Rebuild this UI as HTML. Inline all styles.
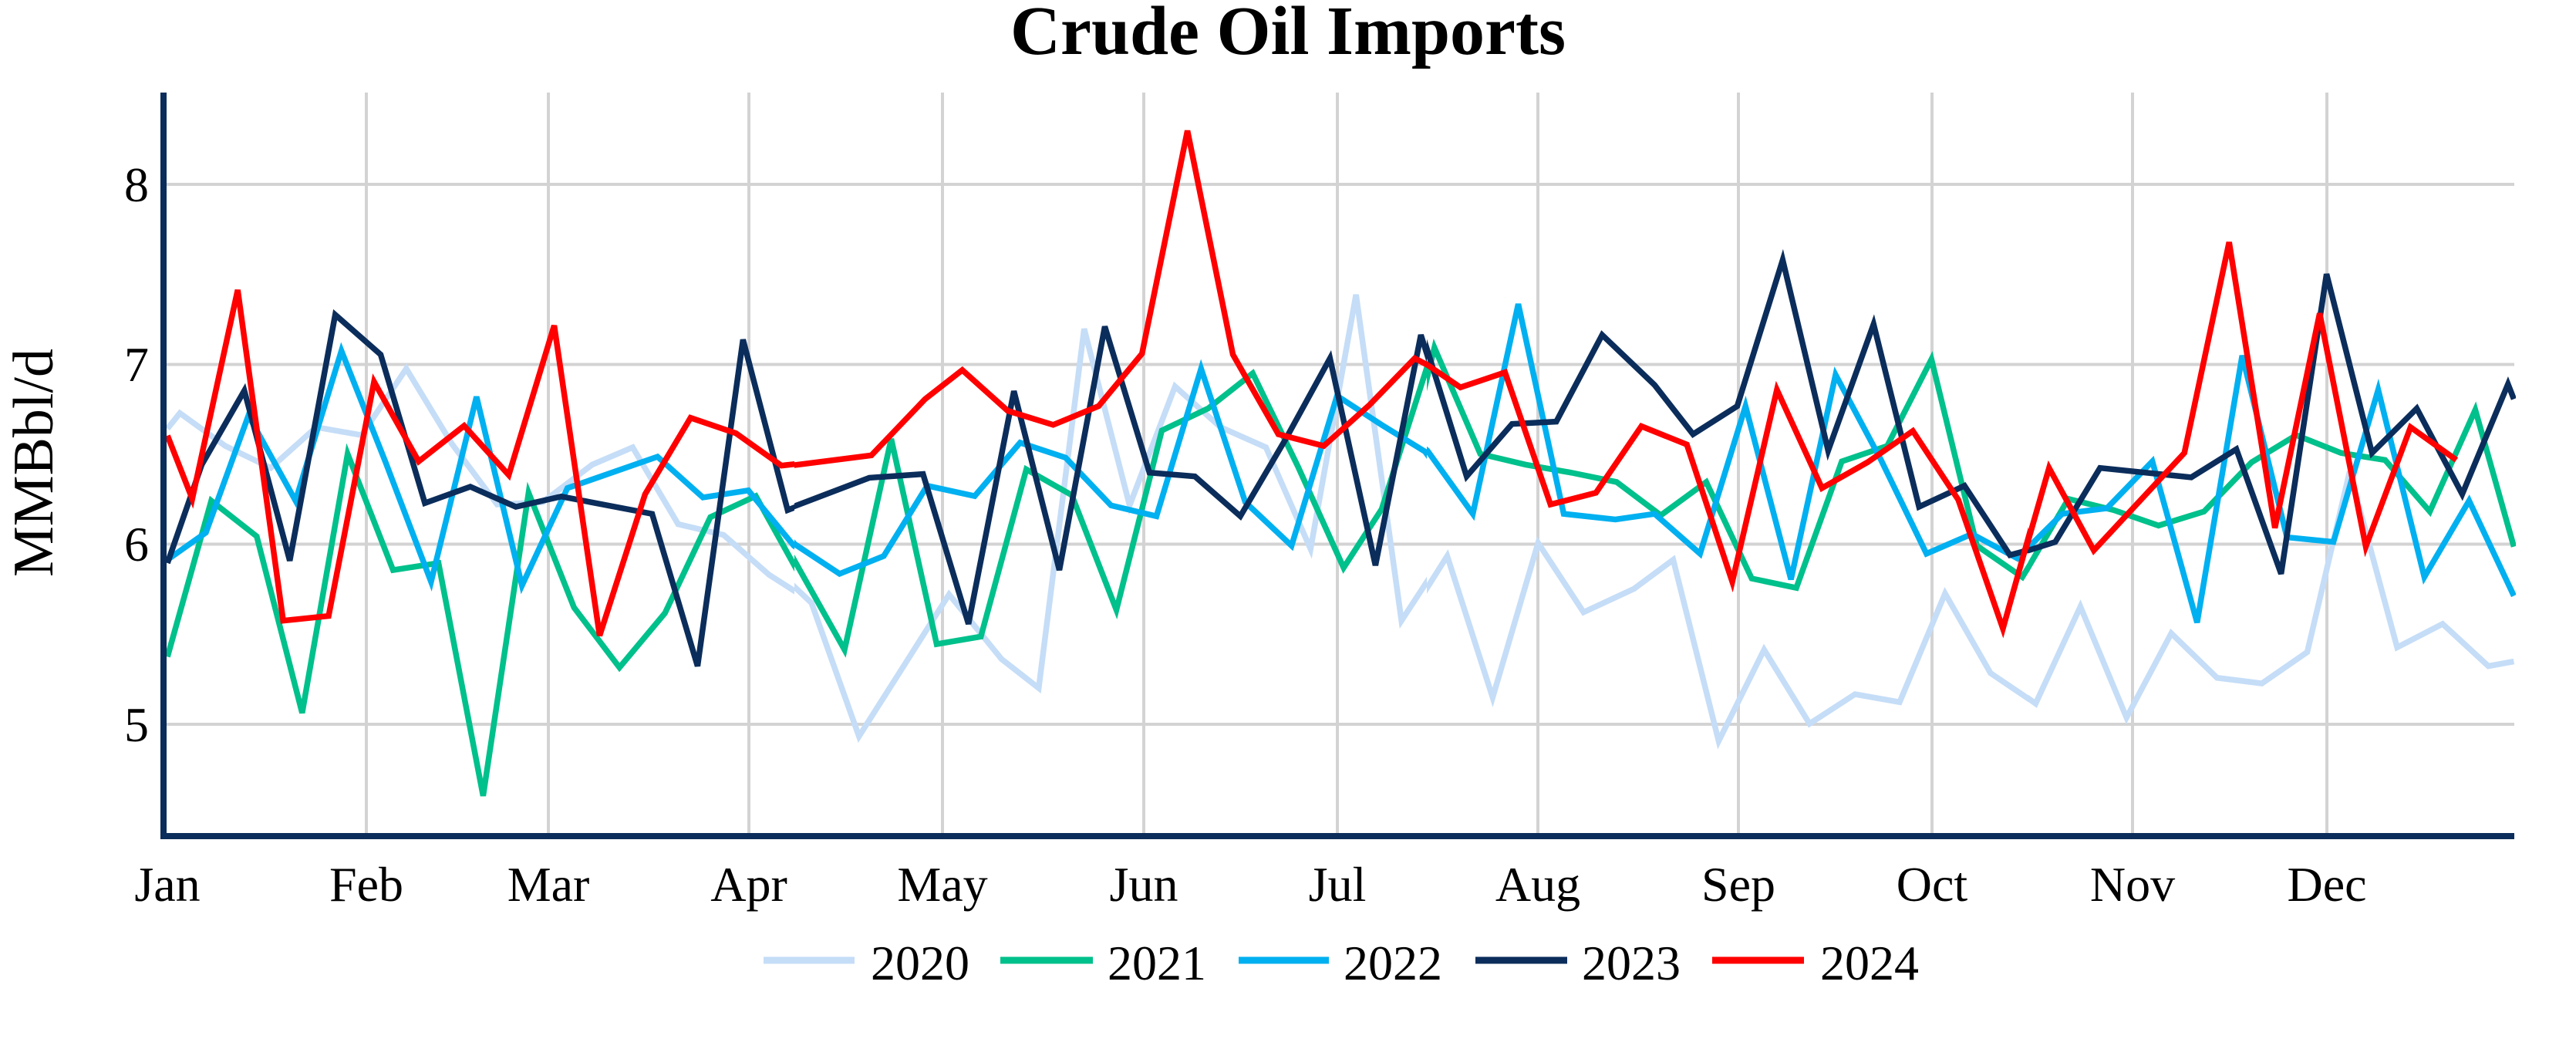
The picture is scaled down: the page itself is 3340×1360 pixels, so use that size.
<!DOCTYPE html>
<html><head><meta charset="utf-8"><style>
html,body{margin:0;padding:0;background:#fff;}
svg{display:block;}
text{font-family:"Liberation Serif",serif;fill:#000;}
</style></head><body>
<svg width="3340" height="1360" viewBox="0 0 3340 1360" xmlns="http://www.w3.org/2000/svg">
<defs>
<clipPath id="c1"><rect x="200" y="0" width="830" height="1080"/></clipPath>
<clipPath id="c2"><rect x="1030" y="0" width="820" height="1080"/></clipPath>
<clipPath id="c3"><rect x="1850" y="0" width="780" height="1080"/></clipPath>
<clipPath id="c4"><rect x="2630" y="0" width="632" height="1080"/></clipPath>
</defs>
<text x="1670" y="70" text-anchor="middle" font-size="90" font-weight="bold">Crude Oil Imports</text>
<g stroke="#d3d3d3" stroke-width="4">
<line x1="216" y1="239" x2="3260" y2="239"/>
<line x1="216" y1="472.5" x2="3260" y2="472.5"/>
<line x1="216" y1="705.5" x2="3260" y2="705.5"/>
<line x1="216" y1="939" x2="3260" y2="939"/>
<line x1="475" y1="120" x2="475" y2="1080"/>
<line x1="711" y1="120" x2="711" y2="1080"/>
<line x1="971" y1="120" x2="971" y2="1080"/>
<line x1="1222" y1="120" x2="1222" y2="1080"/>
<line x1="1483" y1="120" x2="1483" y2="1080"/>
<line x1="1734" y1="120" x2="1734" y2="1080"/>
<line x1="1994" y1="120" x2="1994" y2="1080"/>
<line x1="2254" y1="120" x2="2254" y2="1080"/>
<line x1="2505" y1="120" x2="2505" y2="1080"/>
<line x1="2765" y1="120" x2="2765" y2="1080"/>
<line x1="3017" y1="120" x2="3017" y2="1080"/>
</g>
<g fill="none" stroke-width="7.5" stroke-linejoin="miter" >
<g clip-path="url(#c1)"><g transform="translate(200,150) scale(0.5357,0.6073)">
<polyline vector-effect="non-scaling-stroke" stroke="#c5ddf7" points="32,668 62,635 172,705 282,752 392,665 502,682 610,540 720,700 830,830 940,825 1060,745 1158,708 1268,872 1378,895 1488,980 1568,1025"/>
<polyline vector-effect="non-scaling-stroke" stroke="#00c08b" points="32,1155 138,822 248,898 358,1275 468,722 578,970 688,955 796,1452 906,805 1016,1050 1126,1178 1236,1062 1346,857 1456,812 1568,990"/>
<polyline vector-effect="non-scaling-stroke" stroke="#00b0f0" points="32,948 125,890 228,640 342,822 453,502 560,740 670,995 780,600 890,1003 1000,795 1218,728 1328,815 1438,800 1548,918 1568,930"/>
<polyline vector-effect="non-scaling-stroke" stroke="#0b2d5b" points="32,955 115,745 218,587 328,950 438,425 548,510 655,827 765,792 875,835 985,813 1205,850 1315,1175 1425,478 1533,842 1568,830"/>
<polyline vector-effect="non-scaling-stroke" stroke="#ff0000" points="32,683 92,818 202,372 312,1078 422,1068 532,568 640,738 750,662 858,767 968,448 1078,1110 1188,808 1298,645 1408,678 1518,747 1568,742"/>
</g></g>
<g clip-path="url(#c2)"><g transform="translate(1020,150) scale(0.5357,0.6073)">
<polyline vector-effect="non-scaling-stroke" stroke="#c5ddf7" points="0,990 60,1040 175,1325 283,1175 393,1022 520,1160 610,1222 720,455 830,832 940,578 1050,665 1160,708 1268,925 1378,382 1488,1078 1568,970"/>
<polyline vector-effect="non-scaling-stroke" stroke="#00c08b" points="0,920 140,1140 253,690 363,1128 470,1112 580,755 690,810 798,1055 908,672 1020,625 1128,550 1238,750 1348,965 1440,840 1565,495"/>
<polyline vector-effect="non-scaling-stroke" stroke="#00b0f0" points="0,895 20,915 128,978 235,940 340,790 455,812 565,698 675,730 785,832 895,855 1003,540 1110,825 1222,918 1332,598 1440,660 1545,717 1568,745"/>
<polyline vector-effect="non-scaling-stroke" stroke="#0b2d5b" points="0,840 200,773 330,765 440,1085 550,588 660,970 770,450 878,762 988,770 1098,855 1208,690 1315,518 1425,960 1535,468 1568,560"/>
<polyline vector-effect="non-scaling-stroke" stroke="#ff0000" points="0,748 205,725 335,605 425,543 535,630 645,660 755,620 860,508 970,32 1080,510 1190,680 1300,705 1410,618 1520,518 1568,540"/>
</g></g>
<g clip-path="url(#c3)"><g transform="translate(1840,150) scale(0.5357,0.6073)">
<polyline vector-effect="non-scaling-stroke" stroke="#c5ddf7" points="0,1035 68,940 178,1242 288,912 398,1060 520,1010 615,948 725,1335 835,1140 945,1298 1055,1235 1163,1252 1273,1020 1383,1190 1492,1255 1568,1095"/>
<polyline vector-effect="non-scaling-stroke" stroke="#00c08b" points="0,630 37,495 148,722 258,745 368,762 478,782 585,853 695,782 805,988 913,1008 1023,738 1133,705 1240,520 1350,918 1460,985 1568,830"/>
<polyline vector-effect="non-scaling-stroke" stroke="#00b0f0" points="0,700 20,715 130,850 240,402 350,850 475,862 570,850 680,935 790,620 900,990 1008,553 1118,735 1228,935 1338,893 1448,945 1540,850 1568,845"/>
<polyline vector-effect="non-scaling-stroke" stroke="#0b2d5b" points="0,520 8,467 115,770 225,658 332,653 443,468 570,575 663,680 770,620 880,308 990,715 1100,445 1210,835 1320,790 1430,938 1540,912 1568,870"/>
<polyline vector-effect="non-scaling-stroke" stroke="#ff0000" points="0,520 100,580 208,548 318,830 428,805 538,663 648,702 758,995 866,585 975,795 1085,740 1195,673 1305,820 1413,1095 1522,752 1568,825"/>
</g></g>
<g clip-path="url(#c4)"><g transform="translate(2580,150) scale(0.4464,0.6073)">
<polyline vector-effect="non-scaling-stroke" stroke="#c5ddf7" points="0,1185 133,1255 263,1048 397,1285 527,1105 660,1200 790,1212 922,1145 1045,760 1183,1135 1315,1085 1448,1175 1522,1165"/>
<polyline vector-effect="non-scaling-stroke" stroke="#00c08b" points="0,930 95,985 228,818 360,842 490,875 622,845 760,740 890,682 1020,720 1148,735 1278,845 1410,628 1522,920"/>
<polyline vector-effect="non-scaling-stroke" stroke="#00b0f0" points="0,912 80,945 210,850 340,838 472,738 602,1082 733,512 863,900 998,910 1128,585 1262,985 1392,822 1522,1025"/>
<polyline vector-effect="non-scaling-stroke" stroke="#0b2d5b" points="0,865 60,940 190,910 320,752 585,772 716,712 846,978 978,338 1110,720 1240,625 1372,808 1505,573 1522,605"/>
<polyline vector-effect="non-scaling-stroke" stroke="#ff0000" points="0,1000 38,1095 172,752 302,928 565,720 695,270 828,880 958,422 1092,920 1222,665 1355,735"/>
</g></g>
</g>
<rect x="208" y="120" width="8" height="968" fill="#0b2d5b"/>
<rect x="208" y="1080" width="3052" height="8" fill="#0b2d5b"/>
<g font-size="64" text-anchor="end">
<text x="193" y="261">8</text>
<text x="193" y="494">7</text>
<text x="193" y="727">6</text>
<text x="193" y="961">5</text>
</g>
<text transform="translate(68,600) rotate(-90)" font-size="74" text-anchor="middle">MMBbl/d</text>
<g font-size="64" text-anchor="middle">
<text x="217" y="1168">Jan</text>
<text x="475" y="1168">Feb</text>
<text x="711" y="1168">Mar</text>
<text x="971" y="1168">Apr</text>
<text x="1222" y="1168">May</text>
<text x="1483" y="1168">Jun</text>
<text x="1734" y="1168">Jul</text>
<text x="1994" y="1168">Aug</text>
<text x="2254" y="1168">Sep</text>
<text x="2505" y="1168">Oct</text>
<text x="2765" y="1168">Nov</text>
<text x="3017" y="1168">Dec</text>
</g>
<g stroke-width="9">
<line x1="990" y1="1245" x2="1108" y2="1245" stroke="#c5ddf7"/>
<line x1="1297" y1="1245" x2="1417" y2="1245" stroke="#00c08b"/>
<line x1="1606" y1="1245" x2="1723" y2="1245" stroke="#00b0f0"/>
<line x1="1913" y1="1245" x2="2032" y2="1245" stroke="#0b2d5b"/>
<line x1="2220" y1="1245" x2="2339" y2="1245" stroke="#ff0000"/>
</g>
<g font-size="64">
<text x="1129" y="1270">2020</text>
<text x="1436" y="1270">2021</text>
<text x="1742" y="1270">2022</text>
<text x="2051" y="1270">2023</text>
<text x="2360" y="1270">2024</text>
</g>
</svg>
</body></html>
